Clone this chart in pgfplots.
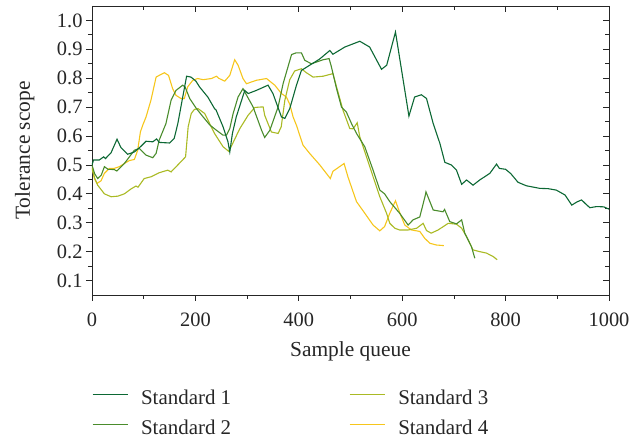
\documentclass[border=0pt]{standalone}
\usepackage{fontspec}
\setmainfont{Liberation Serif}
\usepackage{pgfplots}
\pgfplotsset{compat=1.18}

\definecolor{stdone}{RGB}{12,104,52}
\definecolor{stdtwo}{RGB}{74,140,44}
\definecolor{stdthree}{RGB}{170,186,36}
\definecolor{stdfour}{RGB}{246,198,28}

\begin{document}
\begin{tikzpicture}
\begin{axis}[
  scale only axis, width=517bp, height=289bp,
  xmin=0, xmax=1000, ymin=0.05, ymax=1.05,
  xtick={0,200,400,600,800,1000}, minor x tick num=1,
  ytick={0.1,0.2,0.3,0.4,0.5,0.6,0.7,0.8,0.9,1.0}, minor y tick num=1,
  tick align=center, major tick length=6bp, minor tick length=4bp,
  major x tick style={yshift=-3bp}, minor x tick style={yshift=-2bp},
  major y tick style={xshift=-3bp}, minor y tick style={xshift=-2bp},
  axis line style={black!85, line width=0.8bp},
  every tick/.style={black!85, line width=0.8bp},
  xticklabels={0,200,400,600,800,1000},
  yticklabels={0.1,0.2,0.3,0.4,0.5,0.6,0.7,0.8,0.9,1.0},
  ticklabel style={font=\fontsize{20.5}{22}\selectfont, text=black!85},
  xticklabel style={yshift=-11bp},
  yticklabel style={xshift=-3bp},
  xlabel={Sample queue}, ylabel={Tolerance scope},
  label style={font=\fontsize{21.5}{23}\selectfont, text=black!85},
  x label style={at={(axis description cs:0.5,-0.2145)}, anchor=base},
  y label style={at={(axis description cs:-0.12,0.5)}, anchor=base},
  legend columns=2,
  legend image code/.code={\draw[#1] (0bp,5bp) -- (35bp,5bp);},
  legend style={draw=none, fill=none, inner sep=0pt, outer sep=0pt,
    at={(axis description cs:0,-0.325)}, anchor=north west,
    font=\fontsize{21}{23}\selectfont, text=black!85,
    nodes={inner sep=2bp, text height=14bp, text depth=4bp},
    row sep=8bp,
    /tikz/every odd column/.append style={column sep=11bp},
    /tikz/every even column/.append style={column sep=116bp}},
  legend cell align=left,
  every axis plot/.append style={line width=1.1bp},
]
\addlegendimage{stdone}\addlegendentry{Standard 1}
\addlegendimage{stdthree}\addlegendentry{Standard 3}
\addlegendimage{stdtwo}\addlegendentry{Standard 2}
\addlegendimage{stdfour}\addlegendentry{Standard 4}

% Standard 4
\addplot[stdfour, forget plot] coordinates {
(0,0.494) (4.6,0.453) (9.7,0.436) (17.4,0.445) (24,0.471) (33.6,0.488) (43,0.488)
(53,0.494) (62.6,0.505) (72,0.515) (82,0.519) (88.4,0.551) (93.6,0.614) (98,0.637)
(104.5,0.666) (114,0.724) (124,0.804) (130,0.81) (140,0.819) (148,0.81) (156,0.764)
(162.5,0.741) (172,0.73) (178.6,0.73) (185,0.77) (195,0.793) (204.5,0.799) (215,0.795)
(231,0.799) (240.7,0.807) (245,0.80) (256.8,0.79) (266.5,0.81) (276,0.864) (282.6,0.845)
(292,0.799) (298.7,0.781) (318,0.793) (337.5,0.799) (353.5,0.776) (366.5,0.747)
(376,0.735) (382.5,0.71) (389,0.666) (395.5,0.637) (408,0.569) (421,0.54) (440.6,0.50)
(461,0.453) (466,0.478) (487.6,0.505) (495,0.459) (511.6,0.373) (527.6,0.333)
(543.7,0.292) (556.7,0.272) (566,0.287) (576,0.333) (587,0.376) (595.6,0.333)
(605,0.292) (618,0.275) (634,0.27) (643.7,0.246) (653.5,0.229) (666,0.223) (680.5,0.221)
};
% Standard 3
\addplot[stdthree, forget plot] coordinates {
(0,0.488) (5,0.455) (11,0.43) (24,0.40) (37,0.39) (50,0.392) (62.6,0.40) (75.5,0.417)
(85,0.427) (89,0.423) (101,0.453) (114,0.459) (130,0.473) (146.5,0.482) (153,0.476)
(166,0.50) (181,0.528) (186,0.632) (192,0.678) (198,0.692) (205,0.695) (218,0.678)
(237,0.609) (253.5,0.563) (264.5,0.547) (272,0.574) (286,0.626) (302,0.672) (315,0.699)
(331,0.701) (334,0.672) (347,0.614) (360,0.609) (366,0.632) (373,0.724) (382.5,0.795)
(392,0.825) (405,0.833) (414,0.82) (427.6,0.804) (447,0.807) (466,0.816) (473,0.77)
(485.6,0.689) (498.6,0.626) (505,0.625) (513,0.646) (518,0.597) (531,0.528)
(543.7,0.459) (556.7,0.39) (569.7,0.333) (576,0.298) (585.7,0.281) (595,0.275)
(611.5,0.275) (628,0.281) (640.5,0.298) (647,0.273) (656,0.264) (669.5,0.275)
(689,0.298) (705,0.295) (715,0.281) (724.5,0.252) (737,0.206) (750,0.2) (763,0.195)
(776,0.183) (783.7,0.172)
};
% Standard 2
\addplot[stdtwo, forget plot] coordinates {
(0,0.50) (5,0.47) (11,0.453) (18,0.465) (24,0.494) (31,0.485) (43,0.484) (48,0.479)
(62.6,0.505) (82,0.551) (91.7,0.557) (104.5,0.534) (117.5,0.525) (124,0.54) (130,0.586)
(143,0.643) (153,0.724) (162.5,0.758) (175.5,0.776) (180,0.77) (189,0.73) (202,0.695)
(215,0.666) (228,0.638) (240.7,0.62) (253.5,0.603) (260,0.603) (266.5,0.626)
(273,0.678) (282.5,0.735) (292,0.764) (311.5,0.701) (328,0.62) (334,0.595) (344,0.62)
(360,0.701) (369.6,0.781) (379,0.839) (386,0.882) (395,0.888) (405,0.888) (411.6,0.862)
(424.5,0.85) (447,0.864) (458.6,0.868) (463,0.84) (473,0.764) (482.6,0.70) (492,0.683)
(502,0.643) (511.6,0.609) (527.6,0.563) (543.7,0.482) (556.7,0.413) (566,0.40)
(576,0.373) (595,0.333) (611.5,0.292) (621,0.31) (634,0.32) (644,0.39) (646,0.407)
(660,0.344) (679,0.338) (682,0.346) (692,0.304) (705,0.296) (715,0.31) (721,0.264)
(734,0.217) (740.5,0.177)
};
% Standard 1
\addplot[stdone, forget plot] coordinates {
(0,0.50) (3,0.517) (14,0.517) (22.6,0.528) (26,0.522) (36.8,0.542) (48.4,0.589) (56,0.56)
(69,0.537) (82,0.545) (95,0.565) (104.5,0.582) (117.5,0.58) (125,0.59) (130,0.578)
(150,0.576) (159,0.592) (166,0.643) (175.5,0.735) (183,0.807) (191.5,0.804) (201,0.79)
(208,0.77) (224,0.735) (237,0.695) (240,0.69) (253.5,0.632) (263,0.58) (266.5,0.545)
(271.6,0.609) (279,0.666) (295.5,0.758) (302,0.747) (318,0.758) (340.5,0.776)
(350,0.747) (366.5,0.666) (373,0.661) (382.5,0.695) (395.5,0.776) (405,0.827)
(421,0.845) (440,0.866) (460,0.896) (466,0.883) (489,0.908) (518,0.928) (537,0.908)
(560,0.831) (570,0.845) (587,0.96) (613,0.669) (624,0.735) (637,0.743) (647,0.73)
(660,0.643) (673,0.574) (682.5,0.509) (695,0.50) (705,0.482) (715,0.433) (724.5,0.448)
(737,0.43) (750,0.448) (769.5,0.471) (782.5,0.503) (788,0.488) (800,0.485) (810,0.47)
(824,0.44) (840,0.428) (866,0.419) (882,0.418) (898,0.413) (915,0.396) (928,0.361)
(938,0.372) (947,0.379) (955,0.365) (963,0.352) (976,0.356) (990,0.355) (1000,0.347)
};
\end{axis}
\path (current axis.south west) ++(-92bp,-145bp) rectangle ++(639bp,440bp);
\end{tikzpicture}
\end{document}
